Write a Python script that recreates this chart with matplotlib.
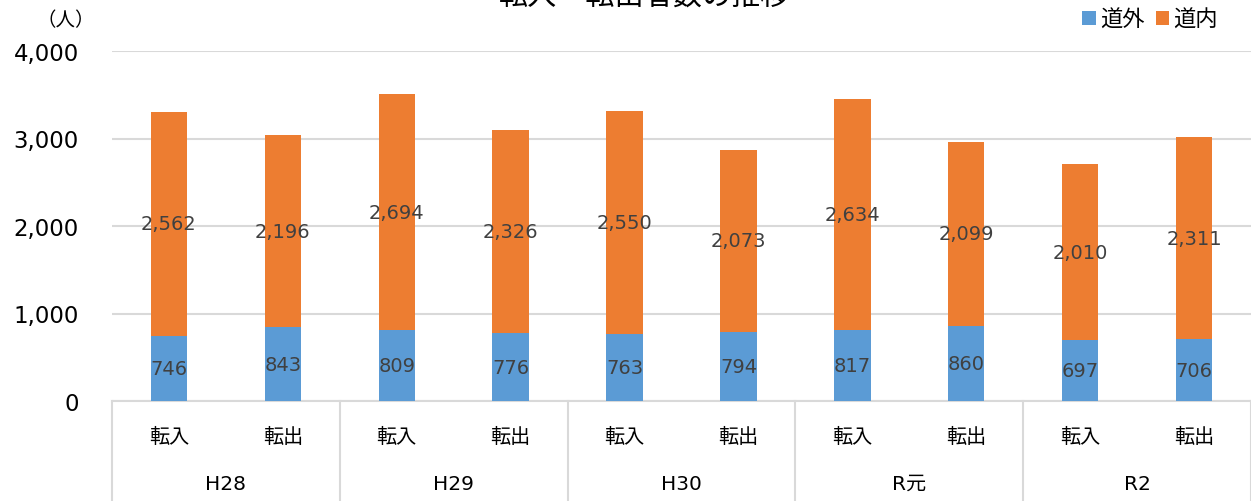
import matplotlib
matplotlib.use("Agg")
import matplotlib.pyplot as plt
import numpy as np

# フォント設定
plt.rcParams['font.family'] = ['DejaVu Sans', 'Noto Sans CJK JP']
plt.rcParams['axes.unicode_minus'] = False

# データ
years = ['H28', 'H29', 'H30', 'R元', 'R2']
kinds = ['転入', '転出']
outside = [746, 843, 809, 776, 763, 794, 817, 860, 697, 706]   # 道外
inside = [2562, 2196, 2694, 2326, 2550, 2073, 2634, 2099, 2010, 2311]  # 道内
y_ticks = [0, 1000, 2000, 3000, 4000]

blue = '#5B9BD5'
orange = '#ED7D31'
grid_c = '#D9D9D9'
label_c = '#404040'

fig = plt.figure(figsize=(12.51, 5.02), dpi=100)
ax = fig.add_axes([112 / 1251, 1 - 402 / 502, 1 - 112 / 1251, 350 / 502])

x = np.arange(len(outside))
w = 0.32
b1 = ax.bar(x, outside, width=w, color=blue, label='道外', zorder=3)
b2 = ax.bar(x, inside, width=w, bottom=outside, color=orange, label='道内', zorder=3)

# データラベル
for i in range(len(x)):
    ax.text(x[i], outside[i] / 2, f"{outside[i]:,}", ha='center', va='center',
            fontsize=14, color=label_c, zorder=4)
    ax.text(x[i], outside[i] + inside[i] / 2, f"{inside[i]:,}", ha='center', va='center',
            fontsize=14, color=label_c, zorder=4)

ax.set_xlim(-0.5, len(x) - 0.5)
ax.set_ylim(0, 4000)
ax.set_yticks(y_ticks)
ax.set_yticklabels([f"{v:,}" for v in y_ticks], fontsize=16.5, color='#000000')
ax.tick_params(axis='y', length=0, pad=24)
ax.set_xticks([])
ax.yaxis.grid(True, color=grid_c, linewidth=1.5, zorder=0)
for s in ['top', 'right', 'left']:
    ax.spines[s].set_visible(False)
ax.spines['bottom'].set_color(grid_c)
ax.spines['bottom'].set_linewidth(1.5)

# 多段の横軸ラベル
trans = ax.get_xaxis_transform()
for i in range(len(x)):
    ax.text(x[i], -0.1, kinds[i % 2], transform=trans, ha='center', va='center',
            fontsize=14.5, color='#000000')
for j, yr in enumerate(years):
    ax.text(2 * j + 0.5, -0.235, yr, transform=trans, ha='center', va='center',
            fontsize=14.5, color='#000000')
for k in range(len(years) + 1):
    ax.plot([2 * k - 0.5, 2 * k - 0.5], [0, -0.29], transform=trans, color=grid_c,
            linewidth=1.5, clip_on=False)

# タイトル・単位・凡例
fig.text(645 / 1251, 1 + 2 / 502, '転入・転出者数の推移', ha='center', va='center', fontsize=21)
fig.text(66 / 1251, 1 - 21 / 502, '（人）', ha='center', va='center', fontsize=14)
fig.legend(handles=[b1, b2], loc='upper right', bbox_to_anchor=(1 - 24 / 1251, 1 - 1 / 502),
           ncol=2, frameon=False, fontsize=16, handlelength=0.6, handleheight=0.6,
           handletextpad=0.2, columnspacing=0.5, borderaxespad=0)

fig.savefig('out.png', dpi=100)
